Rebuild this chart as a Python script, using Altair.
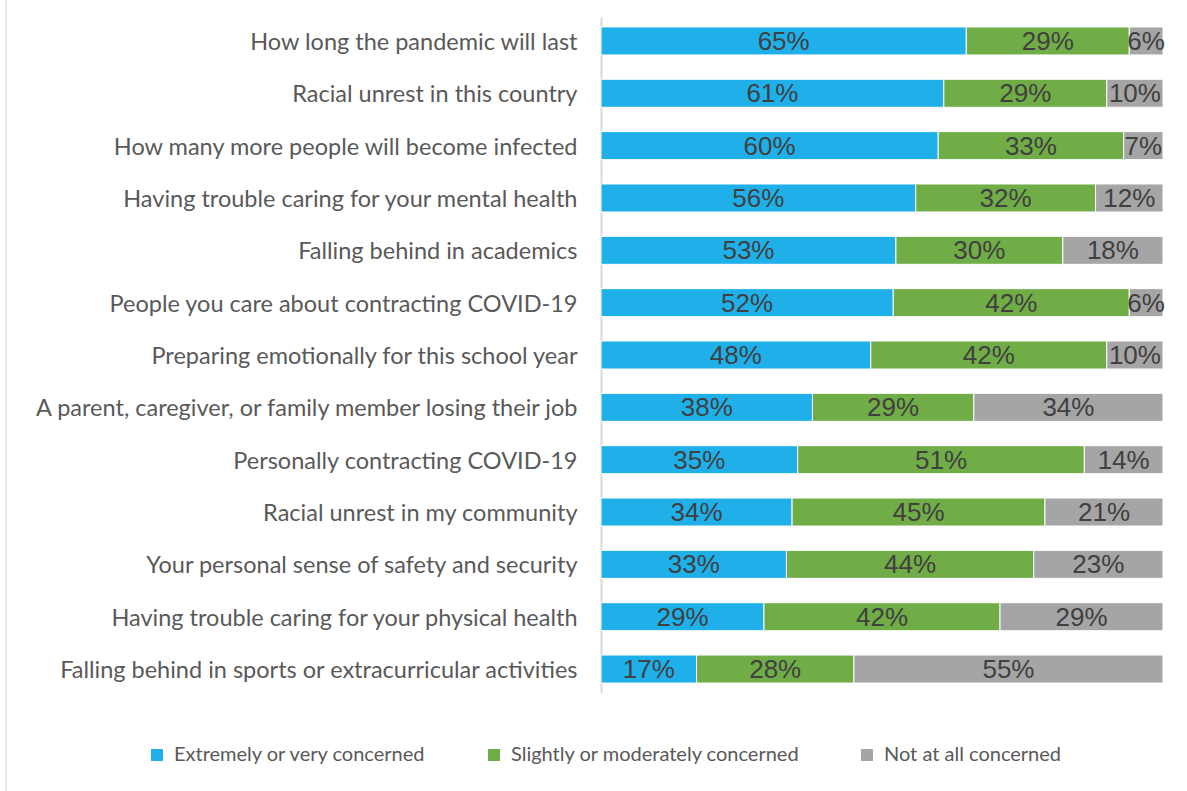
import altair as alt
import pandas as pd

items = [
    "How long the pandemic will last",
    "Racial unrest in this country",
    "How many more people will become infected",
    "Having trouble caring for your mental health",
    "Falling behind in academics",
    "People you care about contracting COVID-19",
    "Preparing emotionally for this school year",
    "A parent, caregiver, or family member losing their job",
    "Personally contracting COVID-19",
    "Racial unrest in my community",
    "Your personal sense of safety and security",
    "Having trouble caring for your physical health",
    "Falling behind in sports or extracurricular activities",
]
extreme = [65, 61, 60, 56, 53, 52, 48, 38, 35, 34, 33, 29, 17]
slight = [29, 29, 33, 32, 30, 42, 42, 29, 51, 45, 44, 42, 28]
notatall = [6, 10, 7, 12, 18, 6, 10, 34, 14, 21, 23, 29, 55]

cats = ["Extremely or very concerned", "Slightly or moderately concerned", "Not at all concerned"]
colors = ["#1FB0EA", "#70AD47", "#A5A5A5"]

rows = []
for i, it in enumerate(items):
    for j, (c, vals) in enumerate(zip(cats, [extreme, slight, notatall])):
        rows.append({"item": it, "category": c, "order": j, "value": vals[i],
                     "label": f"{vals[i]}%"})
df = pd.DataFrame(rows)

yenc = alt.Y(
    "item:N", sort=items,
    scale=alt.Scale(paddingInner=0.465, paddingOuter=0.19),
    axis=alt.Axis(title=None, domain=True, domainColor="#d9d9d9", domainWidth=2,
                  ticks=False, tickSize=0, labelPadding=24, labelFont="Lato",
                  labelFontSize=23.5, labelColor="#595959", labelLimit=0, grid=False,
                  labelOffset=2),
)

base = alt.Chart(df).transform_stack(
    stack="value", groupby=["item"], as_=["x0", "x1"],
    sort=[alt.SortField("order", "ascending")], offset="normalize",
).transform_calculate(mid="(datum.x0 + datum.x1) / 2")

bars = base.mark_bar(stroke="white", strokeWidth=1).encode(
    y=yenc,
    x=alt.X("x0:Q", scale=alt.Scale(domain=[0, 1], nice=False), axis=None),
    x2="x1:Q",
    color=alt.Color(
        "category:N", sort=cats,
        scale=alt.Scale(domain=cats, range=colors),
        legend=alt.Legend(
            title=None, orient="none", legendX=-454, legendY=728,
            direction="horizontal", symbolType="square", symbolSize=144,
            symbolStrokeWidth=0, labelFont="Lato", labelFontSize=20,
            labelColor="#595959", labelOffset=7, columnPadding=57, padding=0,
            labelLimit=0,
        ),
    ),
    order=alt.Order("order:Q"),
)

text = base.mark_text(font="Liberation Sans", fontSize=26, color="#404040",
                      baseline="middle", align="center", dy=1).encode(
    y=alt.Y("item:N", sort=items),
    x=alt.X("mid:Q"),
    text="label:N",
)

border = alt.Chart(pd.DataFrame({"a": [0]})).mark_rule(color="#e6e6e6", strokeWidth=2).encode(
    x=alt.value(-595), y=alt.value(-17), y2=alt.value(774)
)

chart = alt.layer(bars, text, border).properties(
    width=562, height=676,
    autosize=alt.AutoSizeParams(type="none"),
    padding={"left": 601, "top": 17, "right": 23, "bottom": 98},
).configure_view(stroke=None)

chart.save("out.html", embed_options={"renderer": "svg", "actions": False})
